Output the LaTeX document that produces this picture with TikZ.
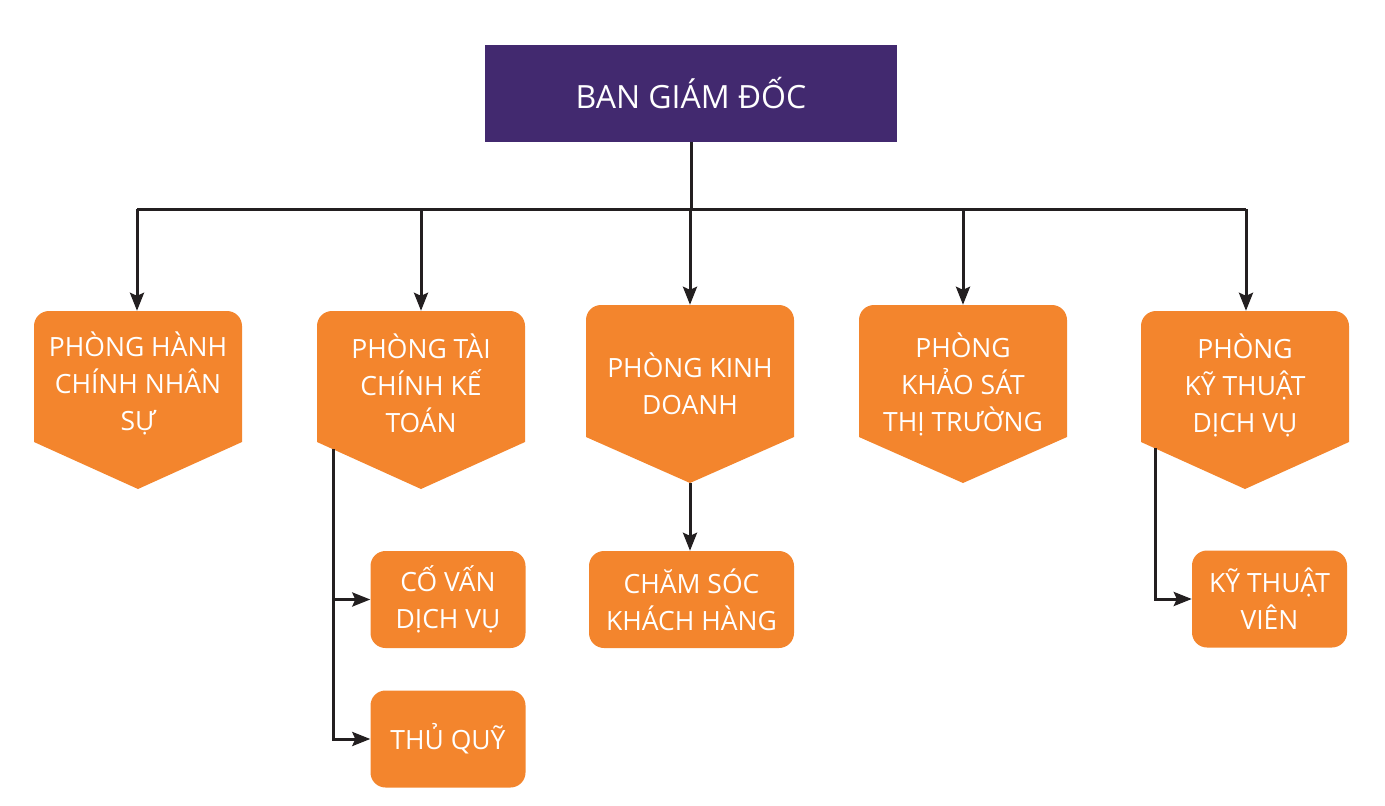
\documentclass[tikz,border=0pt]{standalone}
\usepackage{fontspec}
\setmainfont{Open Sans}
\usetikzlibrary{arrows.meta}
\definecolor{boxorange}{HTML}{F3852D}
\definecolor{boxpurple}{HTML}{42296F}
\definecolor{linecol}{HTML}{231F20}
\newcommand\pentshape[5]{% left, top, right, rect bottom, tip y
  \fill[boxorange] (#1,#4) [rounded corners=15pt] -- (#1,#2) -- (#3,#2) [sharp corners] -- (#3,#4) -- ({(#1+#3)/2},#5) -- cycle;}
\begin{document}
\begin{tikzpicture}[x=1pt,y=-1pt,
  txt/.style={text=white,align=center,font=\fontsize{26.5}{37}\selectfont,inner sep=0pt},
  penttxt/.style={txt,minimum width=208pt},
  subbox/.style={txt,fill=boxorange,rounded corners=15pt,minimum width=155pt,minimum height=97pt},
  conn/.style={draw=linecol,line width=3pt},
  arr/.style={conn,-{Stealth[length=18pt,width=14pt,inset=3pt]}}]
\useasboundingbox (0,0) rectangle (1385,806);
% top box
\node[txt,fill=boxpurple,minimum width=412pt,minimum height=97pt,font=\fontsize{32}{37}\selectfont] (bgd) at (691,93.5) {BAN GIÁM ĐỐC};
% pentagon shapes
\pentshape{34}{311}{242}{442}{489}
\pentshape{317}{311}{525}{442}{489}
\pentshape{586}{305}{794}{437}{483}
\pentshape{859}{305}{1067}{437}{483}
\pentshape{1141}{311}{1349}{442}{489}
% pentagon texts
\node[penttxt,minimum height=144pt] (p1) at (138,383) {PHÒNG HÀNH\\CHÍNH NHÂN\\SỰ};
\node[penttxt,minimum height=144pt] (p2) at (421,383) {PHÒNG TÀI\\CHÍNH KẾ\\TOÁN};
\node[penttxt,minimum height=158pt] (p3) at (690,384) {PHÒNG KINH\\DOANH};
\node[penttxt,minimum height=158pt] (p4) at (963,384) {PHÒNG\\KHẢO SÁT\\THỊ TRƯỜNG};
\node[penttxt,minimum height=148pt] (p5) at (1245,385) {PHÒNG\\KỸ THUẬT\\DỊCH VỤ};
% sub boxes
\node[subbox] (covan) at (448,599.5) {CỐ VẤN\\DỊCH VỤ};
\node[subbox] (thuquy) at (448,739) {THỦ QUỸ};
\node[subbox,minimum width=205pt] (chamsoc) at (691.5,599.5) {CHĂM SÓC\\KHÁCH HÀNG};
\node[subbox] (ktv) at (1269.5,599) {KỸ THUẬT\\VIÊN};
% bus
\coordinate (bus) at (691,209);
\coordinate (b1) at (137,209);
\coordinate (b2) at (421,209);
\coordinate (b3) at (690,209);
\coordinate (b4) at (963,209);
\coordinate (b5) at (1246,209);
\draw[conn] (bgd.south) -- (bus);
\draw[conn] (b1) -- (b5);
\draw[arr] (b1) -- (b1 |- p1.north);
\draw[arr] (b2) -- (b2 |- p2.north);
\draw[arr] (b3) -- (b3 |- p3.north);
\draw[arr] (b4) -- (b4 |- p4.north);
\draw[arr] (b5) -- (b5 |- p5.north);
% sub connectors
\coordinate (tip3) at (690,483);
\coordinate (c2) at (333,449);
\coordinate (c5) at (1155,448);
\draw[arr] (tip3) -- (tip3 |- chamsoc.north);
\draw[arr] (c2) |- (covan.west);
\draw[arr] (c2) |- (thuquy.west);
\draw[arr] (c5) |- (ktv.west);
\end{tikzpicture}
\end{document}
